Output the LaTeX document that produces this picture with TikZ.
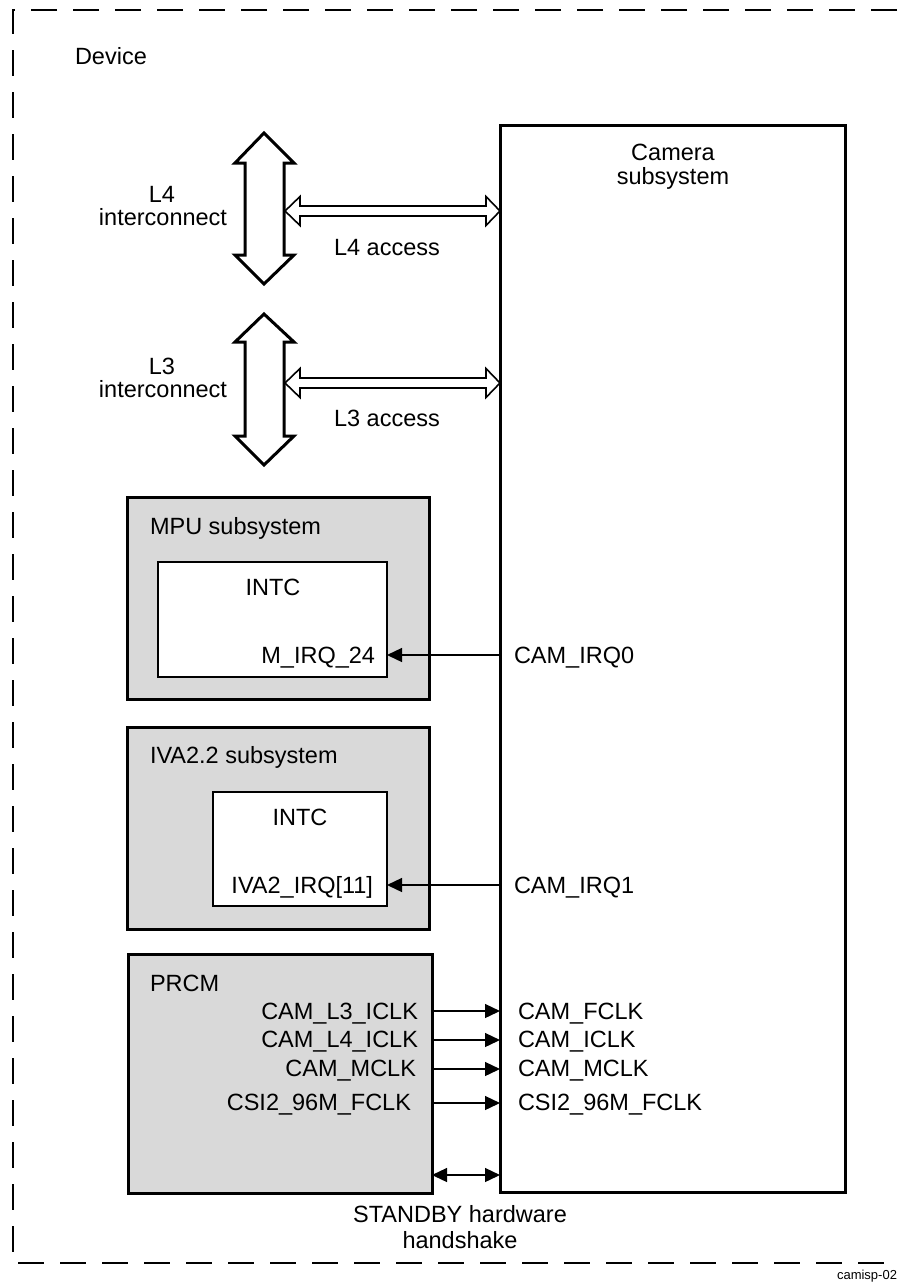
\documentclass[tikz,border=0pt]{standalone}
\usepackage{fontspec}
\setmainfont{Liberation Sans}
\usetikzlibrary{arrows.meta}
\definecolor{boxgray}{RGB}{217,217,217}
\begin{document}
\begin{tikzpicture}[x=1pt,y=-1pt,
  txt/.style={font=\fontsize{23.5}{26}\selectfont, inner sep=0pt, outer sep=0pt, text=black},
  smalltxt/.style={font=\fontsize{13}{15}\selectfont, inner sep=0pt, outer sep=0pt},
  thickbox/.style={draw=black, line width=3pt, inner sep=0pt, outer sep=0pt, anchor=north west},
  graybox/.style={thickbox, fill=boxgray},
  intcbox/.style={draw=black, line width=1.6pt, fill=white, inner sep=0pt, outer sep=0pt, anchor=north west},
  busarrow/.style={draw=black, line width=3pt, line join=miter, fill=white},
  accessarrow/.style={draw=black, line width=1.6pt, line join=miter, fill=white},
  sig/.style={draw=black, line width=1.3pt, -{Triangle[length=15pt,width=14pt]}},
  sigboth/.style={draw=black, line width=1.3pt, {Triangle[length=15pt,width=14pt]}-{Triangle[length=15pt,width=14pt]}},
  border/.style={draw=black, line width=2.7pt, dash pattern=on 26pt off 16pt}
]
\useasboundingbox (0,0) rectangle (897,1282);

% device border
\coordinate (b1) at (897,10);
\coordinate (b2) at (13,10);
\coordinate (b3) at (13,1263);
\coordinate (b4) at (885,1263);
\draw[border] (b1) -- (b2) -- (b3) -- (b4);
\node[txt, anchor=base west] (device) at (75,64) {Device};
\node[smalltxt, anchor=base east] (tag) at (897,1279) {camisp-02};

% camera subsystem
\node[thickbox, minimum width=345pt, minimum height=1067pt] (cam) at (500,125) {};
\node[txt, anchor=base] (camt1) at (673,160) {Camera};
\node[txt, anchor=base] (camt2) at (673,184) {subsystem};

% L4 interconnect bus arrow
\draw[busarrow] (264,133) -- (294,163) -- (284,163) -- (284,255) -- (294,255) -- (264,284)
  -- (235,255) -- (245,255) -- (245,163) -- (235,163) -- cycle;
\node[txt, anchor=base] (l4a) at (162,202) {L4};
\node[txt, anchor=base] (l4b) at (163,225) {interconnect};
% L4 access
\draw[accessarrow] (285,211) -- (300,196.5) -- (300,206) -- (486,206) -- (486,196.5) -- (500,211)
  -- (486,225.5) -- (486,216) -- (300,216) -- (300,225.5) -- cycle;
\node[txt, anchor=base] (l4acc) at (387,255) {L4 access};

% L3 interconnect bus arrow
\draw[busarrow] (264,314) -- (294,342) -- (284,342) -- (284,436) -- (294,436) -- (264,465)
  -- (235,436) -- (245,436) -- (245,342) -- (235,342) -- cycle;
\node[txt, anchor=base] (l3a) at (162,374) {L3};
\node[txt, anchor=base] (l3b) at (163,397) {interconnect};
% L3 access
\draw[accessarrow] (285,383) -- (300,368.5) -- (300,378) -- (486,378) -- (486,368.5) -- (500,383)
  -- (486,397.5) -- (486,388) -- (300,388) -- (300,397.5) -- cycle;
\node[txt, anchor=base] (l3acc) at (387,426) {L3 access};

% MPU subsystem
\node[graybox, minimum width=302pt, minimum height=202pt] (mpu) at (127,497) {};
\node[txt, anchor=base west] (mput) at (150,534) {MPU subsystem};
\node[intcbox, minimum width=229pt, minimum height=115pt] (intc1) at (158,562) {};
\node[txt, anchor=base] (intc1t) at (273,595) {INTC};
\node[txt, anchor=base east] (mirq) at (375,663) {M\_IRQ\_24};
\node[txt, anchor=base west] (camirq0) at (514,663) {CAM\_IRQ0};
\coordinate (y0) at (0,655);
\draw[sig] (cam.west |- y0) -- (intc1.east |- y0);

% IVA2.2 subsystem
\node[graybox, minimum width=302pt, minimum height=202pt] (iva) at (127,727) {};
\node[txt, anchor=base west] (ivat) at (150,763) {IVA2.2 subsystem};
\node[intcbox, minimum width=174pt, minimum height=114pt] (intc2) at (213,792) {};
\node[txt, anchor=base] (intc2t) at (300,825) {INTC};
\node[txt, anchor=base east] (ivairq) at (373,893) {IVA2\_IRQ[11]};
\node[txt, anchor=base west] (camirq1) at (514,893) {CAM\_IRQ1};
\coordinate (y1) at (0,885);
\draw[sig] (cam.west |- y1) -- (intc2.east |- y1);

% PRCM
\node[graybox, minimum width=304pt, minimum height=239pt] (prcm) at (128,954) {};
\node[txt, anchor=base west] (prcmt) at (150,991) {PRCM};
\node[txt, anchor=base east] (c1l) at (418,1019) {CAM\_L3\_ICLK};
\node[txt, anchor=base east] (c2l) at (418,1047) {CAM\_L4\_ICLK};
\node[txt, anchor=base east] (c3l) at (416,1076) {CAM\_MCLK};
\node[txt, anchor=base east] (c4l) at (411,1110) {CSI2\_96M\_FCLK};
\node[txt, anchor=base west] (c1r) at (518,1019) {CAM\_FCLK};
\node[txt, anchor=base west] (c2r) at (518,1047) {CAM\_ICLK};
\node[txt, anchor=base west] (c3r) at (518,1076) {CAM\_MCLK};
\node[txt, anchor=base west] (c4r) at (518,1110) {CSI2\_96M\_FCLK};
\coordinate (yc1) at (0,1011);
\coordinate (yc2) at (0,1040);
\coordinate (yc3) at (0,1069);
\coordinate (yc4) at (0,1103);
\coordinate (ys) at (0,1175);
\draw[sig] (prcm.east |- yc1) -- (cam.west |- yc1);
\draw[sig] (prcm.east |- yc2) -- (cam.west |- yc2);
\draw[sig] (prcm.east |- yc3) -- (cam.west |- yc3);
\draw[sig] (prcm.east |- yc4) -- (cam.west |- yc4);
\draw[sigboth] (prcm.east |- ys) -- (cam.west |- ys);
\node[txt, anchor=base] (sb1) at (460,1222) {STANDBY hardware};
\node[txt, anchor=base] (sb2) at (460,1248) {handshake};
\end{tikzpicture}
\end{document}
